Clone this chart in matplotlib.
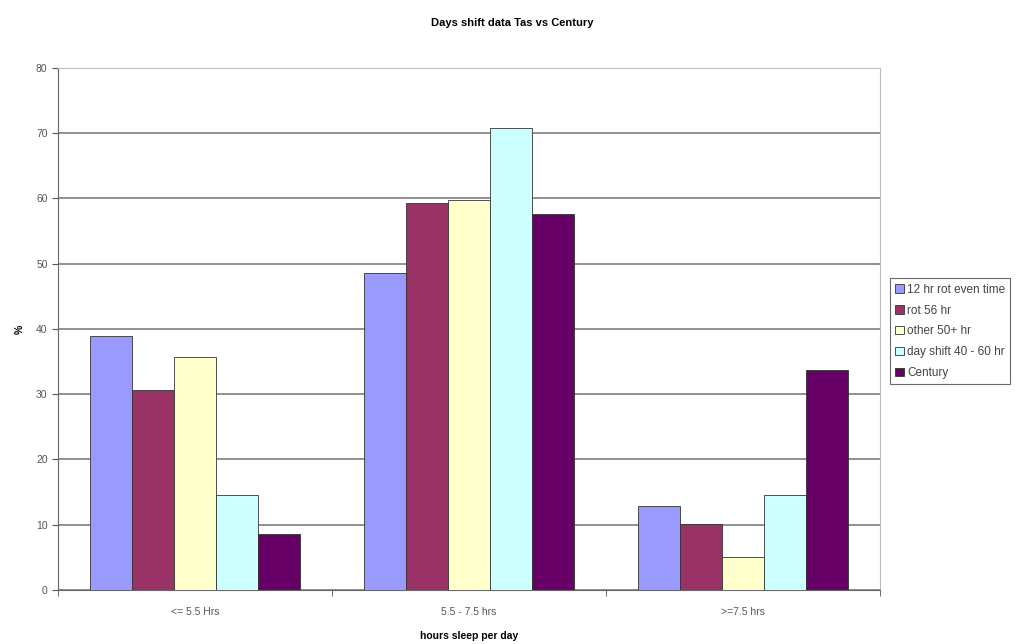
import numpy as np
import matplotlib
matplotlib.use("Agg")
import matplotlib.pyplot as plt

plt.rcParams['font.family'] = ['Liberation Sans', 'DejaVu Sans']

categories = ['<= 5.5 Hrs', '5.5 - 7.5 hrs', '>=7.5 hrs']
series_names = ['12 hr rot even time', 'rot 56 hr', 'other 50+ hr',
                'day shift 40 - 60 hr', 'Century']
rot_even = [38.9, 48.6, 12.8]
rot_56 = [30.7, 59.3, 10.1]
other_50 = [35.7, 59.7, 5.0]
day_shift = [14.6, 70.8, 14.6]
century = [8.6, 57.6, 33.7]
colors = ['#9999FF', '#993366', '#FFFFCC', '#CCFFFF', '#660066']

series = [rot_even, rot_56, other_50, day_shift, century]

fig = plt.figure(figsize=(10.25, 6.44), dpi=100)
ax = fig.add_axes([0.0566, 0.0839, 0.802, 0.8105])

n = len(series)
bw = 1.0 / (n + 1.5)
x = np.arange(len(categories))
for i, (vals, name, c) in enumerate(zip(series, series_names, colors)):
    offs = (i - (n - 1) / 2) * bw
    ax.bar(x + offs, vals, width=bw, color=c, edgecolor='#333333',
           linewidth=0.6, label=name, zorder=3)

ax.set_xlim(-0.5, len(categories) - 0.5)
ax.set_ylim(0, 80)
ax.set_yticks(range(0, 81, 10))
ax.set_xticks(x)
ax.set_xticklabels(categories)
ax.set_xticks(np.arange(-0.5, len(categories)), minor=True)
ax.tick_params(axis='x', which='major', length=0, pad=12, labelsize=7.5, labelcolor='#555555')
ax.tick_params(axis='x', which='minor', length=4, color='#555555')
ax.tick_params(axis='y', length=4, labelsize=7.5, labelcolor='#555555', color='#555555')
ax.yaxis.grid(True, color='#888888', linewidth=1.3, zorder=0)

ax.spines['top'].set_color('#bbbbbb')
ax.spines['right'].set_color('#bbbbbb')
ax.spines['left'].set_color('#666666')
ax.spines['bottom'].set_color('#666666')

fig.text(0.5, 0.965, 'Days shift data Tas vs Century', ha='center', va='center',
         fontsize=8, fontweight='bold')
ax.set_xlabel('hours sleep per day', fontsize=7.5, fontweight='bold', labelpad=10)
ax.set_ylabel('%', fontsize=7.5, fontweight='bold', labelpad=8)

leg = ax.legend(loc='upper left', bbox_to_anchor=(1.012, 0.597), fontsize=8.5,
                frameon=True, fancybox=False, edgecolor='#444444',
                handlelength=0.7, handleheight=0.7, handletextpad=0.3,
                labelspacing=0.75, borderpad=0.45, borderaxespad=0)
leg.get_frame().set_linewidth(0.8)
for t in leg.get_texts():
    t.set_color('#444444')

fig.savefig('out.png', dpi=100)
